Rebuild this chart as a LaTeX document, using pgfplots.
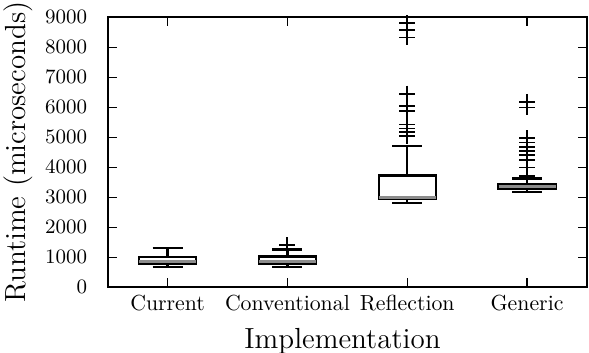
\documentclass[border=0pt]{standalone}
\usepackage{pgfplots}
\pgfplotsset{compat=1.18}
\usepgfplotslibrary{statistics}
\begin{document}
\begin{tikzpicture}
\begin{axis}[
  scale only axis, width=211pt, height=119pt,
  xmin=0.5, xmax=4.5, ymin=0, ymax=9000,
  xtick={1,2,3,4}, xticklabels={Current,Conventional,Reflection,Generic},
  ytick={0,1000,...,9000},
  scaled y ticks=false,
  /pgf/number format/1000 sep={},
  yticklabel style={font=\small, xshift=-5.5pt},
  xticklabel style={font=\fontsize{9.6}{11.5}\selectfont},
  tick align=inside, major tick length=4pt,
  tick style={black, line width=0.5pt},
  axis line style={line width=0.9pt},
  xlabel={Implementation}, ylabel={Runtime (microseconds)},
  label style={font=\fontsize{12.8}{15}\selectfont},
  ylabel style={at={(axis description cs:-0.187,0.5)}, anchor=center},
  xlabel style={at={(axis description cs:0.49,0)}, anchor=base, yshift=-27pt},
  boxplot/draw direction=y,
  boxplot/box extend=0.475,
  boxplot/whisker extend=0.25,
  boxplot/every box/.style={draw=black, fill=white, line width=1pt},
  boxplot/every whisker/.style={black, line width=1pt},
  boxplot/every median/.style={black!45, line width=1.4pt},
]
\addplot[black, mark=+, mark size=3.5pt, mark options={line width=0.8pt},
  boxplot prepared={draw position=1, lower whisker=670, lower quartile=790, median=870, upper quartile=1000, upper whisker=1310}]
  coordinates {};
\addplot[black, mark=+, mark size=3.5pt, mark options={line width=0.8pt},
  boxplot prepared={draw position=2, lower whisker=680, lower quartile=790, median=870, upper quartile=1030, upper whisker=1260}]
  table[row sep=\\, y index=0] {data\\ 1400\\};
\addplot[black, mark=+, mark size=3.5pt, mark options={line width=0.8pt},
  boxplot prepared={draw position=3, lower whisker=2810, lower quartile=2960, median=3000, upper quartile=3720, upper whisker=4710}]
  table[row sep=\\, y index=0] {data\\ 5040\\ 5160\\ 5290\\ 5420\\ 5880\\ 6040\\ 6450\\ 8320\\ 8570\\ 8800\\};
\addplot[black, mark=+, mark size=3.5pt, mark options={line width=0.8pt},
  boxplot prepared={draw position=4, lower whisker=3180, lower quartile=3270, median=3360, upper quartile=3450, upper whisker=3620}]
  table[row sep=\\, y index=0] {data\\ 3710\\ 3990\\ 4230\\ 4400\\ 4540\\ 4680\\ 4820\\ 4970\\ 5990\\ 6180\\};
\end{axis}
\pgfresetboundingbox
\path ([xshift=-47.4pt,yshift=-28.6pt]current axis.south west) rectangle ([xshift=0.9pt,yshift=7.5pt]current axis.north east);
\end{tikzpicture}
\end{document}
